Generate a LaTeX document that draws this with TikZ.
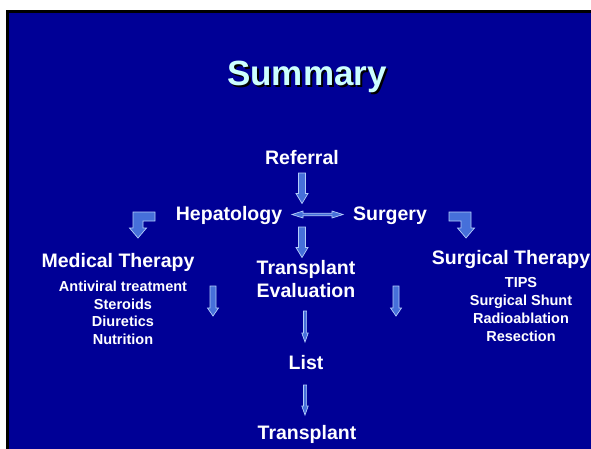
\documentclass[tikz,border=0pt]{standalone}
\usepackage{fontspec}
\setmainfont{Liberation Sans}
\definecolor{slideblue}{RGB}{0,0,150}
\definecolor{titlecyan}{RGB}{204,255,255}
\definecolor{arrowfill}{RGB}{70,112,218}
\definecolor{arrowedge}{RGB}{180,205,250}
\tikzset{
  lbl/.style={text=white, font=\bfseries\fontsize{19.5}{23}\selectfont, inner sep=0pt, anchor=base},
  stacklbl/.style={text=white, font=\bfseries\fontsize{19.5}{23}\selectfont, inner sep=0pt, align=center, anchor=north},
  sublbl/.style={text=white, font=\bfseries\fontsize{14.5}{17.7}\selectfont, inner sep=0pt, align=center, anchor=north},
  titletext/.style={font=\bfseries\fontsize{35}{40}\selectfont, inner sep=0pt, anchor=base},
  blockarrow/.style={fill=arrowfill, draw=arrowedge, line width=0.7pt, line join=miter},
  % straight block arrow pointing down: length / shaft half width / head half width / head length
  pics/downarrow/.style n args={4}{code={
    \filldraw[blockarrow] (-#2,0) -- (#2,0) -- (#2,#1-#4) -- (#3,#1-#4) -- (0,#1)
      -- (-#3,#1-#4) -- (-#2,#1-#4) -- cycle;}},
}
\begin{document}
\begin{tikzpicture}[x=1pt,y=-1pt]
\useasboundingbox (0,0) rectangle (591,448);
\fill[white] (0,0) rectangle (591,448);
% slide frame
\fill[black] (6,10) rectangle (600,460);
\fill[slideblue] (9,13) rectangle (600,460);

% title with drop shadow
\node[titletext, text=black] (titleshadow) at (309,87.5) {Summary};
\node[titletext, text=titlecyan] (title) at (307,85.5) {Summary};

% flow labels
\node[lbl] (referral) at (302,164) {Referral};
\node[lbl] (hepatology) at (229,220) {Hepatology};
\node[lbl] (surgery) at (390,220) {Surgery};
\node[stacklbl] (evaluation) at (306,260) {Transplant\\Evaluation};
\node[lbl] (list) at (306,369) {List};
\node[lbl] (transplant) at (307,439) {Transplant};

\node[lbl] (medical) at (118,267) {Medical Therapy};
\node[sublbl] (medlist) at (123,280.6) {Antiviral treatment\\Steroids\\Diuretics\\Nutrition};
\node[lbl] (surgical) at (511,264) {Surgical Therapy};
\node[sublbl] (surglist) at (521,277.6) {TIPS\\Surgical Shunt\\Radioablation\\Resection};

% arrow anchor points
\coordinate (a-ref) at (302,173);
\coordinate (a-hep) at (302,227);
\coordinate (a-left) at (213,286);
\coordinate (a-right) at (396,286);
\coordinate (a-list) at (305,311);
\coordinate (a-tx) at (305,385);

\pic at (a-ref) {downarrow={30.5}{3.5}{6}{10}};
\pic at (a-hep) {downarrow={30.5}{3.5}{6}{10}};
\pic at (a-left) {downarrow={30}{3}{5.5}{8}};
\pic at (a-right) {downarrow={30}{3}{5.5}{8}};
\pic at (a-list) {downarrow={31}{1.6}{3.2}{9}};
\pic at (a-tx) {downarrow={30}{1.6}{3.2}{9}};

% two-way arrow between Hepatology and Surgery
\filldraw[blockarrow] (292,214.5) -- (303,211) -- (303,213.3) -- (332,213.3) -- (332,211)
  -- (343,214.5) -- (332,218) -- (332,215.7) -- (303,215.7) -- (303,218) -- cycle;

% bent arrows towards the therapy columns
\filldraw[blockarrow] (155,212) -- (133,212) -- (133,228) -- (129.5,228) -- (138,238)
  -- (146.5,228) -- (143,228) -- (143,221) -- (155,221) -- cycle;
\filldraw[blockarrow] (449,212) -- (471,212) -- (471,228) -- (474.5,228) -- (466,238)
  -- (457.5,228) -- (461,228) -- (461,221) -- (449,221) -- cycle;
\end{tikzpicture}
\end{document}
